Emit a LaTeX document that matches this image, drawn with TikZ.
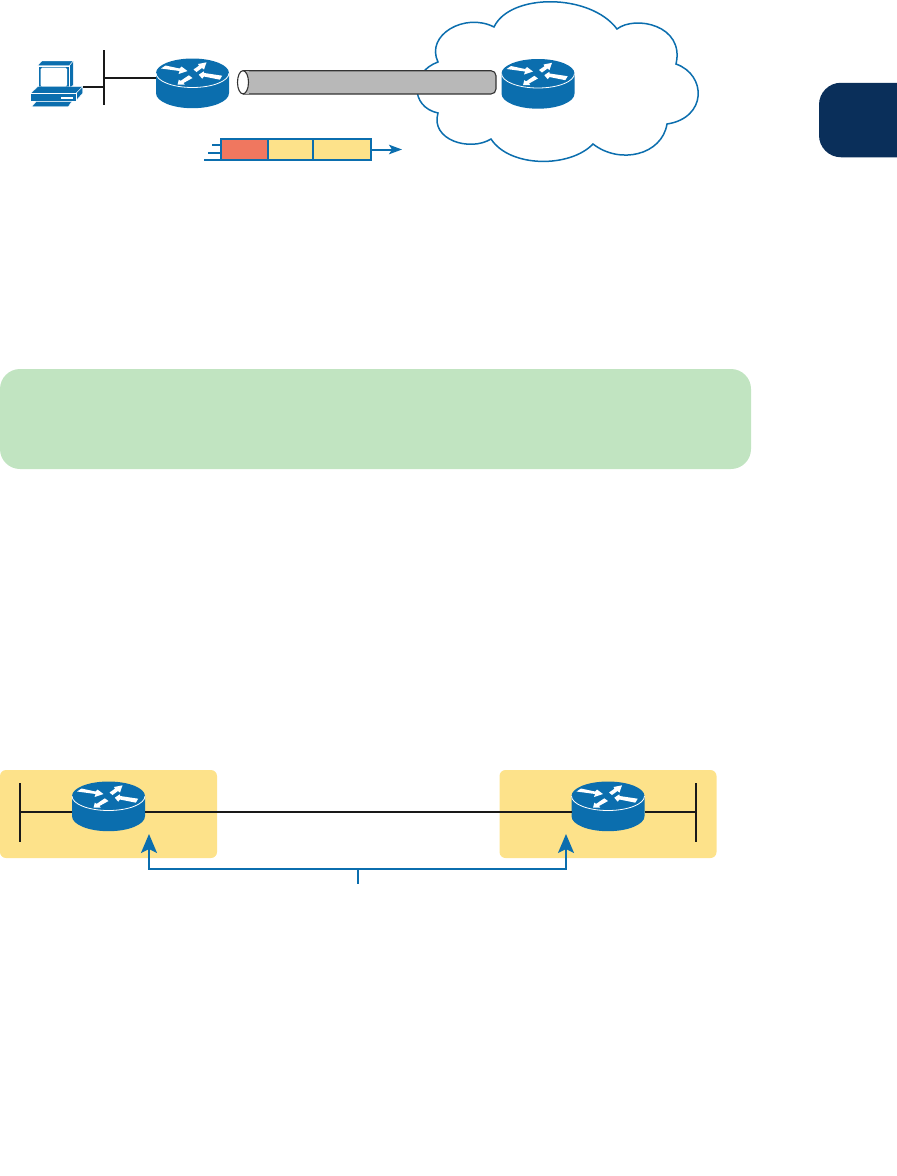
\documentclass[tikz,border=0pt]{standalone}
\usepackage{tikz}
\usetikzlibrary{arrows.meta, positioning, calc}
\definecolor{ciscoblue}{HTML}{0B6EAE}
\definecolor{tabnavy}{HTML}{0A2F5A}
\definecolor{notegreen}{HTML}{C1E4C1}
\definecolor{pktyellow}{HTML}{FDE28A}
\definecolor{pktred}{HTML}{F0775F}
\definecolor{tubegray}{HTML}{B8B8B8}

\begin{document}
\begin{tikzpicture}[
  x=1pt, y=-1pt,
  wire/.style={line width=2pt, black!90},
  blueline/.style={line width=2pt, ciscoblue},
  panel/.style={inner sep=0pt, fill=pktyellow, rounded corners=6pt, minimum width=217pt, minimum height=88pt},
  cell/.style={draw=ciscoblue, line width=1.8pt, inner sep=0pt, outer sep=0pt, minimum height=21.3pt},
  routerbox/.style={inner sep=0pt, outer sep=0pt, minimum width=73pt, minimum height=49pt},
  pcbox/.style={inner sep=0pt, outer sep=0pt, minimum width=53pt, minimum height=47pt},
  pcpart/.style={fill=ciscoblue, draw=white, line width=0.4pt},
  router/.pic={
    \fill[ciscoblue] (-36.5,-10.5) -- (-36.5,9.7) arc[start angle=180, end angle=0, x radius=36.5, y radius=15] -- (36.5,-10.5) -- cycle;
    \fill[ciscoblue] (0,-10.5) ellipse [x radius=36.5, y radius=14.5];
    \draw[white, line width=0.8pt] (-36.5,-10.5) arc[start angle=180, end angle=0, x radius=36.5, y radius=14.5];
    \begin{scope}[shift={(0,-10.5)}]
      \fill[white] (-31.5,-4.5) -- (-27,-7.5) -- (-13,-4.5) -- (-11,-6.5) -- (-5,-2) -- (-14,1) -- (-13,-2) -- cycle;
      \fill[white] (14,-10.7) -- (11.5,-3.5) -- (9.5,-5) -- (4,-1) -- (1,-3.5) -- (6.5,-7.3) -- (5.5,-9) -- cycle;
      \fill[white] (6.3,1.7) -- (11.3,-1.7) -- (11.7,0) -- (29.7,2.7) -- (27.3,6.7) -- (11.5,3.5) -- (9.7,5.7) -- cycle;
      \fill[white] (-15,11.7) -- (-13.7,6.7) -- (-11.8,7.8) -- (-3.7,2.3) -- (0,5) -- (-9,10) -- (-7.7,11.7) -- cycle;
    \end{scope}
  }
]
\useasboundingbox (0,0) rectangle (897,1176);

% side tab and note band
\node[fill=tabnavy, rounded corners=22pt, inner sep=0pt, minimum width=160pt, minimum height=74.5pt] (tab) at (899,120) {};
\node[fill=notegreen, rounded corners=20pt, inner sep=0pt, minimum width=751pt, minimum height=100pt] (note) at (375.5,419) {};

% cloud
\draw[ciscoblue, line width=1.5pt, fill=white] (494,27)
  .. controls (510,-7) and (590,-7) .. (617,29)
  .. controls (635,15) and (685,25) .. (676,64)
  .. controls (707,75) and (707,118) .. (667,124)
  .. controls (662,155) and (620,165) .. (593,144)
  .. controls (570,168) and (510,168) .. (491,139)
  .. controls (470,152) and (430,140) .. (438,113)
  .. controls (410,107) and (410,72) .. (438,62)
  .. controls (425,35) and (465,12) .. cycle;

% tunnel
\draw[fill=tubegray, draw=black!80, line width=1.1pt, rounded corners=5pt] (243,70.7) -- (496,70.7) -- (496,94) -- (243,94);
\draw[fill=tubegray, draw=none] (243,71.2) rectangle (249,93.5);
\draw[fill=white, draw=black!80, line width=1.1pt] (243,82.3) ellipse [x radius=5.5, y radius=11.6];

% routers
\node[panel] (site-l) at (108.5,814) {};
\node[panel] (site-r) at (608,814) {};
\foreach \n/\x/\y in {r-host/192.5/83.5, r-cloud/538/84, r-left/108.5/806.5, r-right/608/806.5}{
  \node[routerbox] (\n) at (\x,\y) {};
  \pic at (\n) {router};
}

% pc
\node[pcbox] (pc) at (56.5,83.5) {};
\path[pcpart] (37.7,65.7) -- (41.7,61) -- (73.3,61) -- (69.3,65.7) -- cycle;
\path[pcpart] (69.3,65.7) -- (73.3,61) -- (73.3,85) -- (69.3,89.3) -- cycle;
\path[pcpart] (37.7,65.7) rectangle (69.3,89.3);
\fill[white, rounded corners=1.5pt] (40.7,67.7) rectangle (67,86.7);
\path[pcpart] (37.7,86.7) -- (30.7,93.3) -- (76,93.3) -- (82.7,86.7) -- cycle;
\path[pcpart] (76,93.3) -- (82.7,86.7) -- (82.7,93.3) -- (76,100.7) -- cycle;
\path[pcpart] (30,93.3) rectangle (76,100.7);
\fill[white] (60.7,97) rectangle (72.7,98.7);
\path[pcpart] (36,101.7) -- (71.7,101.7) -- (68.3,106.7) -- (31.7,106.7) -- cycle;

% top lan
\coordinate (lan-top) at (104,50);
\coordinate (lan-bot) at (104,104.7);
\coordinate (lan-pc) at (104,87);
\coordinate (lan-r) at (104,77.7);
\draw[wire] (lan-top) -- (lan-bot);
\draw[wire] (lan-pc -| pc.east) -- (lan-pc);
\draw[wire] (lan-r) -- (lan-r -| r-host.west);

% packet
\node[cell, fill=pktred, minimum width=47pt] (q-red) at (244.5,149.5) {};
\node[cell, fill=pktyellow, minimum width=45pt, right=0pt of q-red] (q-mid) {};
\node[cell, fill=pktyellow, minimum width=58pt, right=0pt of q-mid] (q-end) {};
\coordinate (q-go) at (402,149.5);
\draw[blueline, -{Stealth[length=13pt,width=9.5pt,inset=3pt]}] (q-end.east) -- (q-go);
\coordinate (t-a) at (212,144.7);
\coordinate (t-b) at (208,153);
\coordinate (t-c) at (204,160);
\foreach \t in {t-a,t-b,t-c}
  \draw[blueline] (\t) -- (\t -| q-red.west);

% bottom link
\coordinate (bar-l) at (20,811.7);
\coordinate (bar-r) at (696,811.7);
\draw[wire] (20,783) -- (bar-l) -- (20,842);
\draw[wire] (696,783) -- (bar-r) -- (696,842);
\draw[wire] (bar-l) -- (bar-l -| r-left.west);
\draw[wire] (bar-l -| r-left.east) -- (bar-l -| r-right.west);
\draw[wire] (bar-r -| r-right.east) -- (bar-r);

% callout bracket
\coordinate (tip-l) at (149,834);
\coordinate (tip-r) at (566,834);
\coordinate (stem) at (358,868.7);
\coordinate (stem-end) at (358,884);
\draw[blueline, {Stealth[length=19pt,width=16pt,inset=4pt]}-{Stealth[length=19pt,width=16pt,inset=4pt]}] (tip-l) |- (stem) -| (tip-r);
\draw[blueline] (stem) -- (stem-end);

\end{tikzpicture}
\end{document}
